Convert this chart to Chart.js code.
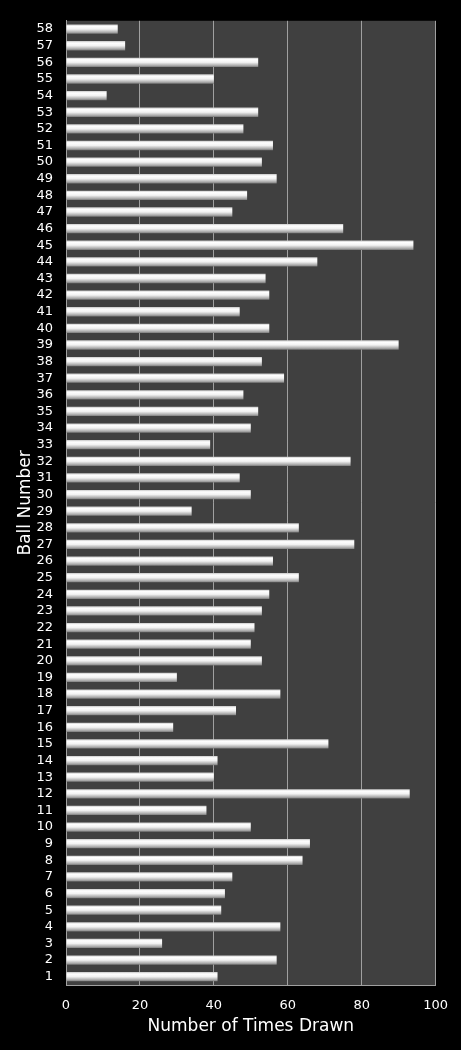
<!DOCTYPE html>
<html>
<head>
<meta charset="utf-8">
<script src="https://cdn.jsdelivr.net/npm/chart.js@4/dist/chart.umd.min.js"></script>
<style>
  html, body { margin: 0; padding: 0; background: #000; }
  #chart-container { position: relative; width: 461px; height: 1050px; }
</style>
</head>
<body>
<div id="chart-container"><canvas id="chart"></canvas></div>
<script>
// Ball numbers 1..58 and how often each was drawn
const ballNumbers = [];
for (let i = 1; i <= 58; i++) ballNumbers.push(String(i));

const timesDrawn = [
  41, 57, 26, 58, 42, 43, 45, 64, 66, 50,
  38, 93, 40, 41, 71, 29, 46, 58, 30, 53,
  50, 51, 53, 55, 63, 56, 78, 63, 34, 50,
  47, 77, 39, 50, 52, 48, 59, 53, 90, 55,
  47, 55, 54, 68, 94, 75, 45, 49, 57, 53,
  56, 48, 52, 11, 40, 52, 16, 14
];

const xTicks = [0, 20, 40, 60, 80, 100];

const FONT = "'DejaVu Sans', Verdana, sans-serif";
const BAR_PCT = 0.56;

// dark plot background like the spreadsheet chart
const plotBackground = {
  id: 'plotBackground',
  beforeDraw(chart) {
    const { ctx, chartArea } = chart;
    ctx.save();
    ctx.fillStyle = '#404040';
    ctx.fillRect(chartArea.left, chartArea.top, chartArea.right - chartArea.left, chartArea.bottom - chartArea.top);
    ctx.restore();
  }
};

// cylinder-ish shading for every bar
function barGradient(context) {
  const chart = context.chart;
  const yScale = chart.scales.y;
  if (!yScale || context.dataIndex === undefined) return '#e0e0e0';
  const center = yScale.getPixelForValue(context.dataIndex);
  const half = (yScale.height / ballNumbers.length) * BAR_PCT / 2;
  if (!isFinite(center) || !isFinite(half) || half <= 0) return '#e0e0e0';
  const g = chart.ctx.createLinearGradient(0, center - half, 0, center + half);
  g.addColorStop(0, '#c8c8c8');
  g.addColorStop(0.2, '#ffffff');
  g.addColorStop(0.5, '#f2f2f2');
  g.addColorStop(0.85, '#a8a8a8');
  g.addColorStop(1, '#7a7a7a');
  return g;
}

new Chart(document.getElementById('chart'), {
  type: 'bar',
  data: {
    labels: ballNumbers,
    datasets: [{
      label: 'Number of Times Drawn',
      data: timesDrawn,
      backgroundColor: barGradient,
      borderWidth: 0,
      barPercentage: BAR_PCT,
      categoryPercentage: 1
    }]
  },
  options: {
    indexAxis: 'y',
    responsive: true,
    maintainAspectRatio: false,
    animation: false,
    layout: { padding: { top: 14, right: 24, left: 0, bottom: 0 } },
    scales: {
      x: {
        min: 0,
        max: 100,
        afterBuildTicks(scale) { scale.ticks = xTicks.map(v => ({ value: v })); },
        afterFit(scale) { scale.height = 65; },
        grid: { color: '#a0a0a0', lineWidth: 1, drawTicks: false },
        border: { display: true, color: '#a0a0a0' },
        ticks: { color: '#ffffff', padding: 13, font: { family: FONT, size: 13 } },
        title: {
          display: true,
          text: 'Number of Times Drawn',
          color: '#ffffff',
          padding: { top: 0, bottom: 13 },
          font: { family: FONT, size: 17 }
        }
      },
      y: {
        reverse: true,
        afterFit(scale) { scale.width = 66; },
        grid: { display: false, drawTicks: false },
        border: { display: true, color: '#a0a0a0' },
        ticks: { color: '#ffffff', padding: 13, autoSkip: false, font: { family: FONT, size: 13 } },
        title: {
          display: true,
          text: 'Ball Number',
          color: '#ffffff',
          padding: { top: 15, bottom: 0 },
          font: { family: FONT, size: 17 }
        }
      }
    },
    plugins: {
      legend: { display: false },
      tooltip: { enabled: false }
    }
  },
  plugins: [plotBackground]
});
</script>
</body>
</html>
